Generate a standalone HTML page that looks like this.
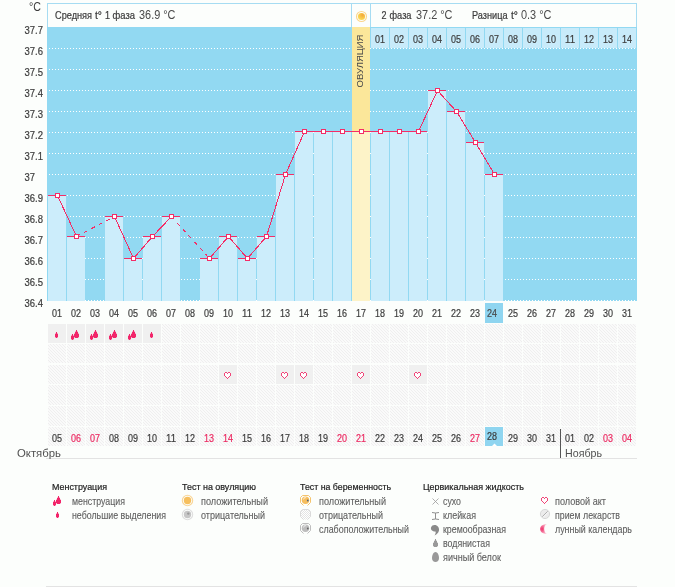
<!DOCTYPE html>
<html><head><meta charset="utf-8"><style>html,body{margin:0;padding:0;background:#fcfefc;width:675px;height:587px;overflow:hidden;position:relative}</style></head>
<body>
<svg width="675" height="587" viewBox="0 0 675 587" style="position:absolute;left:0;top:0;font-family:'Liberation Sans', sans-serif;will-change:transform">
<defs><pattern id="dots" x="1" y="0" width="3" height="1" patternUnits="userSpaceOnUse"><rect x="0" y="0" width="1" height="1" fill="#fff"/></pattern><pattern id="hatch" x="0" y="0" width="3" height="3" patternUnits="userSpaceOnUse"><rect width="3" height="3" fill="#fafafa"/><rect width="1" height="1" fill="#efefef"/><rect x="1" y="1" width="1" height="1" fill="#efefef"/><rect x="2" y="2" width="1" height="1" fill="#efefef"/></pattern><radialGradient id="sun" cx="0.65" cy="0.3" r="0.8"><stop offset="0" stop-color="#f3a73c"/><stop offset="0.6" stop-color="#f9cc4c"/><stop offset="1" stop-color="#fde15e"/></radialGradient><radialGradient id="moon" cx="0.3" cy="0.5" r="0.7"><stop offset="0" stop-color="#f0306a"/><stop offset="1" stop-color="#fbd0dc"/></radialGradient><pattern id="hatch2" x="0" y="0" width="2" height="2" patternUnits="userSpaceOnUse"><rect width="2" height="2" fill="#fff"/><rect width="1" height="1" fill="#e4e4e4"/><rect x="1" y="1" width="1" height="1" fill="#e4e4e4"/></pattern></defs>
<rect x="0" y="0" width="675" height="587" fill="#fcfefc"/>
<g shape-rendering="crispEdges">
<rect x="47" y="3" width="590" height="24" fill="#fcfefc"/>
<rect x="47" y="3" width="590" height="1" fill="#a6dcf2"/>
<rect x="47" y="3" width="1" height="24" fill="#a6dcf2"/>
<rect x="636" y="3" width="1" height="24" fill="#a6dcf2"/>
<rect x="351" y="3" width="1" height="24" fill="#a6dcf2"/>
<rect x="370" y="3" width="1" height="24" fill="#a6dcf2"/>
<rect x="47" y="27" width="590" height="274" fill="#92d9f2"/>
<rect x="47" y="48" width="590" height="1" fill="url(#dots)"/>
<rect x="47" y="69" width="590" height="1" fill="url(#dots)"/>
<rect x="47" y="90" width="590" height="1" fill="url(#dots)"/>
<rect x="47" y="111" width="590" height="1" fill="url(#dots)"/>
<rect x="47" y="132" width="590" height="1" fill="url(#dots)"/>
<rect x="47" y="153" width="590" height="1" fill="url(#dots)"/>
<rect x="47" y="174" width="590" height="1" fill="url(#dots)"/>
<rect x="47" y="195" width="590" height="1" fill="url(#dots)"/>
<rect x="47" y="216" width="590" height="1" fill="url(#dots)"/>
<rect x="47" y="237" width="590" height="1" fill="url(#dots)"/>
<rect x="47" y="258" width="590" height="1" fill="url(#dots)"/>
<rect x="47" y="279" width="590" height="1" fill="url(#dots)"/>
<rect x="47" y="300" width="590" height="1" fill="url(#dots)"/>
<rect x="371" y="28" width="18" height="20" fill="#c8ebfa"/>
<rect x="390" y="28" width="18" height="20" fill="#c8ebfa"/>
<rect x="409" y="28" width="18" height="20" fill="#c8ebfa"/>
<rect x="428" y="28" width="18" height="20" fill="#c8ebfa"/>
<rect x="447" y="28" width="18" height="20" fill="#c8ebfa"/>
<rect x="466" y="28" width="18" height="20" fill="#c8ebfa"/>
<rect x="485" y="28" width="18" height="20" fill="#c8ebfa"/>
<rect x="504" y="28" width="18" height="20" fill="#c8ebfa"/>
<rect x="523" y="28" width="18" height="20" fill="#c8ebfa"/>
<rect x="542" y="28" width="18" height="20" fill="#c8ebfa"/>
<rect x="561" y="28" width="18" height="20" fill="#c8ebfa"/>
<rect x="580" y="28" width="18" height="20" fill="#c8ebfa"/>
<rect x="599" y="28" width="18" height="20" fill="#c8ebfa"/>
<rect x="618" y="28" width="18" height="20" fill="#c8ebfa"/>
<rect x="352" y="27" width="18" height="104" fill="#fbe79a"/>
<rect x="48" y="196" width="18" height="105" fill="#ccedfb"/>
<rect x="48" y="195" width="18" height="1" fill="#f42d67"/>
<rect x="67" y="237" width="18" height="64" fill="#ccedfb"/>
<rect x="67" y="236" width="18" height="1" fill="#f42d67"/>
<rect x="105" y="217" width="18" height="84" fill="#ccedfb"/>
<rect x="105" y="216" width="18" height="1" fill="#f42d67"/>
<rect x="124" y="259" width="18" height="42" fill="#ccedfb"/>
<rect x="124" y="258" width="18" height="1" fill="#f42d67"/>
<rect x="143" y="237" width="18" height="64" fill="#ccedfb"/>
<rect x="143" y="236" width="18" height="1" fill="#f42d67"/>
<rect x="162" y="217" width="18" height="84" fill="#ccedfb"/>
<rect x="162" y="216" width="18" height="1" fill="#f42d67"/>
<rect x="200" y="259" width="18" height="42" fill="#ccedfb"/>
<rect x="200" y="258" width="18" height="1" fill="#f42d67"/>
<rect x="219" y="237" width="18" height="64" fill="#ccedfb"/>
<rect x="219" y="236" width="18" height="1" fill="#f42d67"/>
<rect x="238" y="259" width="18" height="42" fill="#ccedfb"/>
<rect x="238" y="258" width="18" height="1" fill="#f42d67"/>
<rect x="257" y="237" width="18" height="64" fill="#ccedfb"/>
<rect x="257" y="236" width="18" height="1" fill="#f42d67"/>
<rect x="276" y="175" width="18" height="126" fill="#ccedfb"/>
<rect x="276" y="174" width="18" height="1" fill="#f42d67"/>
<rect x="295" y="132" width="18" height="169" fill="#ccedfb"/>
<rect x="295" y="131" width="18" height="1" fill="#f42d67"/>
<rect x="314" y="132" width="18" height="169" fill="#ccedfb"/>
<rect x="314" y="131" width="18" height="1" fill="#f42d67"/>
<rect x="333" y="132" width="18" height="169" fill="#ccedfb"/>
<rect x="333" y="131" width="18" height="1" fill="#f42d67"/>
<rect x="352" y="132" width="18" height="169" fill="#fdf3c8"/>
<rect x="352" y="131" width="18" height="1" fill="#f42d67"/>
<rect x="371" y="132" width="18" height="169" fill="#ccedfb"/>
<rect x="371" y="131" width="18" height="1" fill="#f42d67"/>
<rect x="390" y="132" width="18" height="169" fill="#ccedfb"/>
<rect x="390" y="131" width="18" height="1" fill="#f42d67"/>
<rect x="409" y="132" width="18" height="169" fill="#ccedfb"/>
<rect x="409" y="131" width="18" height="1" fill="#f42d67"/>
<rect x="428" y="91" width="18" height="210" fill="#ccedfb"/>
<rect x="428" y="90" width="18" height="1" fill="#f42d67"/>
<rect x="447" y="112" width="18" height="189" fill="#ccedfb"/>
<rect x="447" y="111" width="18" height="1" fill="#f42d67"/>
<rect x="466" y="143" width="18" height="158" fill="#ccedfb"/>
<rect x="466" y="142" width="18" height="1" fill="#f42d67"/>
<rect x="485" y="175" width="18" height="126" fill="#ccedfb"/>
<rect x="485" y="174" width="18" height="1" fill="#f42d67"/>
<rect x="485" y="303" width="18" height="20" fill="#8fd5f0"/>
<rect x="48" y="324" width="18" height="19" fill="#f0f0f0"/>
<rect x="67" y="324" width="18" height="19" fill="#f0f0f0"/>
<rect x="86" y="324" width="18" height="19" fill="#f0f0f0"/>
<rect x="105" y="324" width="18" height="19" fill="#f0f0f0"/>
<rect x="124" y="324" width="18" height="19" fill="#f0f0f0"/>
<rect x="143" y="324" width="18" height="19" fill="#f0f0f0"/>
<rect x="162" y="324" width="18" height="19" fill="url(#hatch)"/>
<rect x="181" y="324" width="18" height="19" fill="url(#hatch)"/>
<rect x="200" y="324" width="18" height="19" fill="url(#hatch)"/>
<rect x="219" y="324" width="18" height="19" fill="url(#hatch)"/>
<rect x="238" y="324" width="18" height="19" fill="url(#hatch)"/>
<rect x="257" y="324" width="18" height="19" fill="url(#hatch)"/>
<rect x="276" y="324" width="18" height="19" fill="url(#hatch)"/>
<rect x="295" y="324" width="18" height="19" fill="url(#hatch)"/>
<rect x="314" y="324" width="18" height="19" fill="url(#hatch)"/>
<rect x="333" y="324" width="18" height="19" fill="url(#hatch)"/>
<rect x="352" y="324" width="18" height="19" fill="url(#hatch)"/>
<rect x="371" y="324" width="18" height="19" fill="url(#hatch)"/>
<rect x="390" y="324" width="18" height="19" fill="url(#hatch)"/>
<rect x="409" y="324" width="18" height="19" fill="url(#hatch)"/>
<rect x="428" y="324" width="18" height="19" fill="url(#hatch)"/>
<rect x="447" y="324" width="18" height="19" fill="url(#hatch)"/>
<rect x="466" y="324" width="18" height="19" fill="url(#hatch)"/>
<rect x="485" y="324" width="18" height="19" fill="url(#hatch)"/>
<rect x="504" y="324" width="18" height="19" fill="url(#hatch)"/>
<rect x="523" y="324" width="18" height="19" fill="url(#hatch)"/>
<rect x="542" y="324" width="18" height="19" fill="url(#hatch)"/>
<rect x="561" y="324" width="18" height="19" fill="url(#hatch)"/>
<rect x="580" y="324" width="18" height="19" fill="url(#hatch)"/>
<rect x="599" y="324" width="18" height="19" fill="url(#hatch)"/>
<rect x="618" y="324" width="18" height="19" fill="url(#hatch)"/>
<rect x="48" y="344" width="18" height="19" fill="url(#hatch)"/>
<rect x="67" y="344" width="18" height="19" fill="url(#hatch)"/>
<rect x="86" y="344" width="18" height="19" fill="url(#hatch)"/>
<rect x="105" y="344" width="18" height="19" fill="url(#hatch)"/>
<rect x="124" y="344" width="18" height="19" fill="url(#hatch)"/>
<rect x="143" y="344" width="18" height="19" fill="url(#hatch)"/>
<rect x="162" y="344" width="18" height="19" fill="url(#hatch)"/>
<rect x="181" y="344" width="18" height="19" fill="url(#hatch)"/>
<rect x="200" y="344" width="18" height="19" fill="url(#hatch)"/>
<rect x="219" y="344" width="18" height="19" fill="url(#hatch)"/>
<rect x="238" y="344" width="18" height="19" fill="url(#hatch)"/>
<rect x="257" y="344" width="18" height="19" fill="url(#hatch)"/>
<rect x="276" y="344" width="18" height="19" fill="url(#hatch)"/>
<rect x="295" y="344" width="18" height="19" fill="url(#hatch)"/>
<rect x="314" y="344" width="18" height="19" fill="url(#hatch)"/>
<rect x="333" y="344" width="18" height="19" fill="url(#hatch)"/>
<rect x="352" y="344" width="18" height="19" fill="url(#hatch)"/>
<rect x="371" y="344" width="18" height="19" fill="url(#hatch)"/>
<rect x="390" y="344" width="18" height="19" fill="url(#hatch)"/>
<rect x="409" y="344" width="18" height="19" fill="url(#hatch)"/>
<rect x="428" y="344" width="18" height="19" fill="url(#hatch)"/>
<rect x="447" y="344" width="18" height="19" fill="url(#hatch)"/>
<rect x="466" y="344" width="18" height="19" fill="url(#hatch)"/>
<rect x="485" y="344" width="18" height="19" fill="url(#hatch)"/>
<rect x="504" y="344" width="18" height="19" fill="url(#hatch)"/>
<rect x="523" y="344" width="18" height="19" fill="url(#hatch)"/>
<rect x="542" y="344" width="18" height="19" fill="url(#hatch)"/>
<rect x="561" y="344" width="18" height="19" fill="url(#hatch)"/>
<rect x="580" y="344" width="18" height="19" fill="url(#hatch)"/>
<rect x="599" y="344" width="18" height="19" fill="url(#hatch)"/>
<rect x="618" y="344" width="18" height="19" fill="url(#hatch)"/>
<rect x="48" y="365" width="18" height="19" fill="url(#hatch)"/>
<rect x="67" y="365" width="18" height="19" fill="url(#hatch)"/>
<rect x="86" y="365" width="18" height="19" fill="url(#hatch)"/>
<rect x="105" y="365" width="18" height="19" fill="url(#hatch)"/>
<rect x="124" y="365" width="18" height="19" fill="url(#hatch)"/>
<rect x="143" y="365" width="18" height="19" fill="url(#hatch)"/>
<rect x="162" y="365" width="18" height="19" fill="url(#hatch)"/>
<rect x="181" y="365" width="18" height="19" fill="url(#hatch)"/>
<rect x="200" y="365" width="18" height="19" fill="url(#hatch)"/>
<rect x="219" y="365" width="18" height="19" fill="#f0f0f0"/>
<rect x="238" y="365" width="18" height="19" fill="url(#hatch)"/>
<rect x="257" y="365" width="18" height="19" fill="url(#hatch)"/>
<rect x="276" y="365" width="18" height="19" fill="#f0f0f0"/>
<rect x="295" y="365" width="18" height="19" fill="#f0f0f0"/>
<rect x="314" y="365" width="18" height="19" fill="url(#hatch)"/>
<rect x="333" y="365" width="18" height="19" fill="url(#hatch)"/>
<rect x="352" y="365" width="18" height="19" fill="#f0f0f0"/>
<rect x="371" y="365" width="18" height="19" fill="url(#hatch)"/>
<rect x="390" y="365" width="18" height="19" fill="url(#hatch)"/>
<rect x="409" y="365" width="18" height="19" fill="#f0f0f0"/>
<rect x="428" y="365" width="18" height="19" fill="url(#hatch)"/>
<rect x="447" y="365" width="18" height="19" fill="url(#hatch)"/>
<rect x="466" y="365" width="18" height="19" fill="url(#hatch)"/>
<rect x="485" y="365" width="18" height="19" fill="url(#hatch)"/>
<rect x="504" y="365" width="18" height="19" fill="url(#hatch)"/>
<rect x="523" y="365" width="18" height="19" fill="url(#hatch)"/>
<rect x="542" y="365" width="18" height="19" fill="url(#hatch)"/>
<rect x="561" y="365" width="18" height="19" fill="url(#hatch)"/>
<rect x="580" y="365" width="18" height="19" fill="url(#hatch)"/>
<rect x="599" y="365" width="18" height="19" fill="url(#hatch)"/>
<rect x="618" y="365" width="18" height="19" fill="url(#hatch)"/>
<rect x="48" y="385" width="18" height="20" fill="url(#hatch)"/>
<rect x="67" y="385" width="18" height="20" fill="url(#hatch)"/>
<rect x="86" y="385" width="18" height="20" fill="url(#hatch)"/>
<rect x="105" y="385" width="18" height="20" fill="url(#hatch)"/>
<rect x="124" y="385" width="18" height="20" fill="url(#hatch)"/>
<rect x="143" y="385" width="18" height="20" fill="url(#hatch)"/>
<rect x="162" y="385" width="18" height="20" fill="url(#hatch)"/>
<rect x="181" y="385" width="18" height="20" fill="url(#hatch)"/>
<rect x="200" y="385" width="18" height="20" fill="url(#hatch)"/>
<rect x="219" y="385" width="18" height="20" fill="url(#hatch)"/>
<rect x="238" y="385" width="18" height="20" fill="url(#hatch)"/>
<rect x="257" y="385" width="18" height="20" fill="url(#hatch)"/>
<rect x="276" y="385" width="18" height="20" fill="url(#hatch)"/>
<rect x="295" y="385" width="18" height="20" fill="url(#hatch)"/>
<rect x="314" y="385" width="18" height="20" fill="url(#hatch)"/>
<rect x="333" y="385" width="18" height="20" fill="url(#hatch)"/>
<rect x="352" y="385" width="18" height="20" fill="url(#hatch)"/>
<rect x="371" y="385" width="18" height="20" fill="url(#hatch)"/>
<rect x="390" y="385" width="18" height="20" fill="url(#hatch)"/>
<rect x="409" y="385" width="18" height="20" fill="url(#hatch)"/>
<rect x="428" y="385" width="18" height="20" fill="url(#hatch)"/>
<rect x="447" y="385" width="18" height="20" fill="url(#hatch)"/>
<rect x="466" y="385" width="18" height="20" fill="url(#hatch)"/>
<rect x="485" y="385" width="18" height="20" fill="url(#hatch)"/>
<rect x="504" y="385" width="18" height="20" fill="url(#hatch)"/>
<rect x="523" y="385" width="18" height="20" fill="url(#hatch)"/>
<rect x="542" y="385" width="18" height="20" fill="url(#hatch)"/>
<rect x="561" y="385" width="18" height="20" fill="url(#hatch)"/>
<rect x="580" y="385" width="18" height="20" fill="url(#hatch)"/>
<rect x="599" y="385" width="18" height="20" fill="url(#hatch)"/>
<rect x="618" y="385" width="18" height="20" fill="url(#hatch)"/>
<rect x="48" y="406" width="18" height="20" fill="url(#hatch)"/>
<rect x="67" y="406" width="18" height="20" fill="url(#hatch)"/>
<rect x="86" y="406" width="18" height="20" fill="url(#hatch)"/>
<rect x="105" y="406" width="18" height="20" fill="url(#hatch)"/>
<rect x="124" y="406" width="18" height="20" fill="url(#hatch)"/>
<rect x="143" y="406" width="18" height="20" fill="url(#hatch)"/>
<rect x="162" y="406" width="18" height="20" fill="url(#hatch)"/>
<rect x="181" y="406" width="18" height="20" fill="url(#hatch)"/>
<rect x="200" y="406" width="18" height="20" fill="url(#hatch)"/>
<rect x="219" y="406" width="18" height="20" fill="url(#hatch)"/>
<rect x="238" y="406" width="18" height="20" fill="url(#hatch)"/>
<rect x="257" y="406" width="18" height="20" fill="url(#hatch)"/>
<rect x="276" y="406" width="18" height="20" fill="url(#hatch)"/>
<rect x="295" y="406" width="18" height="20" fill="url(#hatch)"/>
<rect x="314" y="406" width="18" height="20" fill="url(#hatch)"/>
<rect x="333" y="406" width="18" height="20" fill="url(#hatch)"/>
<rect x="352" y="406" width="18" height="20" fill="url(#hatch)"/>
<rect x="371" y="406" width="18" height="20" fill="url(#hatch)"/>
<rect x="390" y="406" width="18" height="20" fill="url(#hatch)"/>
<rect x="409" y="406" width="18" height="20" fill="url(#hatch)"/>
<rect x="428" y="406" width="18" height="20" fill="url(#hatch)"/>
<rect x="447" y="406" width="18" height="20" fill="url(#hatch)"/>
<rect x="466" y="406" width="18" height="20" fill="url(#hatch)"/>
<rect x="485" y="406" width="18" height="20" fill="url(#hatch)"/>
<rect x="504" y="406" width="18" height="20" fill="url(#hatch)"/>
<rect x="523" y="406" width="18" height="20" fill="url(#hatch)"/>
<rect x="542" y="406" width="18" height="20" fill="url(#hatch)"/>
<rect x="561" y="406" width="18" height="20" fill="url(#hatch)"/>
<rect x="580" y="406" width="18" height="20" fill="url(#hatch)"/>
<rect x="599" y="406" width="18" height="20" fill="url(#hatch)"/>
<rect x="618" y="406" width="18" height="20" fill="url(#hatch)"/>
<rect x="48" y="427" width="18" height="19" fill="url(#hatch)"/>
<rect x="67" y="427" width="18" height="19" fill="url(#hatch)"/>
<rect x="86" y="427" width="18" height="19" fill="url(#hatch)"/>
<rect x="105" y="427" width="18" height="19" fill="url(#hatch)"/>
<rect x="124" y="427" width="18" height="19" fill="url(#hatch)"/>
<rect x="143" y="427" width="18" height="19" fill="url(#hatch)"/>
<rect x="162" y="427" width="18" height="19" fill="url(#hatch)"/>
<rect x="181" y="427" width="18" height="19" fill="url(#hatch)"/>
<rect x="200" y="427" width="18" height="19" fill="url(#hatch)"/>
<rect x="219" y="427" width="18" height="19" fill="url(#hatch)"/>
<rect x="238" y="427" width="18" height="19" fill="url(#hatch)"/>
<rect x="257" y="427" width="18" height="19" fill="url(#hatch)"/>
<rect x="276" y="427" width="18" height="19" fill="url(#hatch)"/>
<rect x="295" y="427" width="18" height="19" fill="url(#hatch)"/>
<rect x="314" y="427" width="18" height="19" fill="url(#hatch)"/>
<rect x="333" y="427" width="18" height="19" fill="url(#hatch)"/>
<rect x="352" y="427" width="18" height="19" fill="url(#hatch)"/>
<rect x="371" y="427" width="18" height="19" fill="url(#hatch)"/>
<rect x="390" y="427" width="18" height="19" fill="url(#hatch)"/>
<rect x="409" y="427" width="18" height="19" fill="url(#hatch)"/>
<rect x="428" y="427" width="18" height="19" fill="url(#hatch)"/>
<rect x="447" y="427" width="18" height="19" fill="url(#hatch)"/>
<rect x="466" y="427" width="18" height="19" fill="url(#hatch)"/>
<rect x="485" y="427" width="18" height="19" fill="url(#hatch)"/>
<rect x="504" y="427" width="18" height="19" fill="url(#hatch)"/>
<rect x="523" y="427" width="18" height="19" fill="url(#hatch)"/>
<rect x="542" y="427" width="18" height="19" fill="url(#hatch)"/>
<rect x="561" y="427" width="18" height="19" fill="url(#hatch)"/>
<rect x="580" y="427" width="18" height="19" fill="url(#hatch)"/>
<rect x="599" y="427" width="18" height="19" fill="url(#hatch)"/>
<rect x="618" y="427" width="18" height="19" fill="url(#hatch)"/>
<rect x="485" y="427" width="18" height="19" fill="#8fd5f0"/>
<rect x="46" y="458" width="591" height="1" fill="#e3e3e3"/>
<rect x="560" y="429" width="1" height="29" fill="#555555"/>
<rect x="46" y="586" width="591" height="1" fill="#e3e3e3"/>
</g>
<line x1="57.5" y1="195.5" x2="76.5" y2="236.5" stroke="#f42d67" stroke-width="1" shape-rendering="crispEdges"/>
<line x1="76.5" y1="236.5" x2="114.5" y2="216.5" stroke="#f42d67" stroke-width="1" stroke-dasharray="4,4.5" shape-rendering="crispEdges"/>
<line x1="114.5" y1="216.5" x2="133.5" y2="258.5" stroke="#f42d67" stroke-width="1" shape-rendering="crispEdges"/>
<line x1="133.5" y1="258.5" x2="152.5" y2="236.5" stroke="#f42d67" stroke-width="1" shape-rendering="crispEdges"/>
<line x1="152.5" y1="236.5" x2="171.5" y2="216.5" stroke="#f42d67" stroke-width="1" shape-rendering="crispEdges"/>
<line x1="171.5" y1="216.5" x2="209.5" y2="258.5" stroke="#f42d67" stroke-width="1" stroke-dasharray="4,4.5" shape-rendering="crispEdges"/>
<line x1="209.5" y1="258.5" x2="228.5" y2="236.5" stroke="#f42d67" stroke-width="1" shape-rendering="crispEdges"/>
<line x1="228.5" y1="236.5" x2="247.5" y2="258.5" stroke="#f42d67" stroke-width="1" shape-rendering="crispEdges"/>
<line x1="247.5" y1="258.5" x2="266.5" y2="236.5" stroke="#f42d67" stroke-width="1" shape-rendering="crispEdges"/>
<line x1="266.5" y1="236.5" x2="285.5" y2="174.5" stroke="#f42d67" stroke-width="1" shape-rendering="crispEdges"/>
<line x1="285.5" y1="174.5" x2="304.5" y2="131.5" stroke="#f42d67" stroke-width="1" shape-rendering="crispEdges"/>
<line x1="304.5" y1="131.5" x2="323.5" y2="131.5" stroke="#f42d67" stroke-width="1" shape-rendering="crispEdges"/>
<line x1="323.5" y1="131.5" x2="342.5" y2="131.5" stroke="#f42d67" stroke-width="1" shape-rendering="crispEdges"/>
<line x1="342.5" y1="131.5" x2="361.5" y2="131.5" stroke="#f42d67" stroke-width="1" shape-rendering="crispEdges"/>
<line x1="361.5" y1="131.5" x2="380.5" y2="131.5" stroke="#f42d67" stroke-width="1" shape-rendering="crispEdges"/>
<line x1="380.5" y1="131.5" x2="399.5" y2="131.5" stroke="#f42d67" stroke-width="1" shape-rendering="crispEdges"/>
<line x1="399.5" y1="131.5" x2="418.5" y2="131.5" stroke="#f42d67" stroke-width="1" shape-rendering="crispEdges"/>
<line x1="418.5" y1="131.5" x2="437.5" y2="90.5" stroke="#f42d67" stroke-width="1" shape-rendering="crispEdges"/>
<line x1="437.5" y1="90.5" x2="456.5" y2="111.5" stroke="#f42d67" stroke-width="1" shape-rendering="crispEdges"/>
<line x1="456.5" y1="111.5" x2="475.5" y2="142.5" stroke="#f42d67" stroke-width="1" shape-rendering="crispEdges"/>
<line x1="475.5" y1="142.5" x2="494.5" y2="174.5" stroke="#f42d67" stroke-width="1" shape-rendering="crispEdges"/>
<g shape-rendering="crispEdges">
<rect x="55" y="193" width="5" height="5" fill="#f42d67"/>
<rect x="56" y="194" width="3" height="3" fill="#fff"/>
<rect x="74" y="234" width="5" height="5" fill="#f42d67"/>
<rect x="75" y="235" width="3" height="3" fill="#fff"/>
<rect x="112" y="214" width="5" height="5" fill="#f42d67"/>
<rect x="113" y="215" width="3" height="3" fill="#fff"/>
<rect x="131" y="256" width="5" height="5" fill="#f42d67"/>
<rect x="132" y="257" width="3" height="3" fill="#fff"/>
<rect x="150" y="234" width="5" height="5" fill="#f42d67"/>
<rect x="151" y="235" width="3" height="3" fill="#fff"/>
<rect x="169" y="214" width="5" height="5" fill="#f42d67"/>
<rect x="170" y="215" width="3" height="3" fill="#fff"/>
<rect x="207" y="256" width="5" height="5" fill="#f42d67"/>
<rect x="208" y="257" width="3" height="3" fill="#fff"/>
<rect x="226" y="234" width="5" height="5" fill="#f42d67"/>
<rect x="227" y="235" width="3" height="3" fill="#fff"/>
<rect x="245" y="256" width="5" height="5" fill="#f42d67"/>
<rect x="246" y="257" width="3" height="3" fill="#fff"/>
<rect x="264" y="234" width="5" height="5" fill="#f42d67"/>
<rect x="265" y="235" width="3" height="3" fill="#fff"/>
<rect x="283" y="172" width="5" height="5" fill="#f42d67"/>
<rect x="284" y="173" width="3" height="3" fill="#fff"/>
<rect x="302" y="129" width="5" height="5" fill="#f42d67"/>
<rect x="303" y="130" width="3" height="3" fill="#fff"/>
<rect x="321" y="129" width="5" height="5" fill="#f42d67"/>
<rect x="322" y="130" width="3" height="3" fill="#fff"/>
<rect x="340" y="129" width="5" height="5" fill="#f42d67"/>
<rect x="341" y="130" width="3" height="3" fill="#fff"/>
<rect x="359" y="129" width="5" height="5" fill="#f42d67"/>
<rect x="360" y="130" width="3" height="3" fill="#fff"/>
<rect x="378" y="129" width="5" height="5" fill="#f42d67"/>
<rect x="379" y="130" width="3" height="3" fill="#fff"/>
<rect x="397" y="129" width="5" height="5" fill="#f42d67"/>
<rect x="398" y="130" width="3" height="3" fill="#fff"/>
<rect x="416" y="129" width="5" height="5" fill="#f42d67"/>
<rect x="417" y="130" width="3" height="3" fill="#fff"/>
<rect x="435" y="88" width="5" height="5" fill="#f42d67"/>
<rect x="436" y="89" width="3" height="3" fill="#fff"/>
<rect x="454" y="109" width="5" height="5" fill="#f42d67"/>
<rect x="455" y="110" width="3" height="3" fill="#fff"/>
<rect x="473" y="140" width="5" height="5" fill="#f42d67"/>
<rect x="474" y="141" width="3" height="3" fill="#fff"/>
<rect x="492" y="172" width="5" height="5" fill="#f42d67"/>
<rect x="493" y="173" width="3" height="3" fill="#fff"/>
</g>
<path d="M492 446 L494.5 443.5 L497 446 Z" fill="#fff"/>
<text x="29" y="11" font-size="12.5" fill="#3c3c3c" text-anchor="start" font-weight="normal" textLength="12" lengthAdjust="spacingAndGlyphs" stroke="none">°C</text>
<text x="24.5" y="34" font-size="10.5" fill="#3c3c3c" text-anchor="start" font-weight="normal" textLength="18.5" lengthAdjust="spacingAndGlyphs" stroke="#3c3c3c" stroke-width="0.2">37.7</text>
<text x="24.5" y="55" font-size="10.5" fill="#3c3c3c" text-anchor="start" font-weight="normal" textLength="18.5" lengthAdjust="spacingAndGlyphs" stroke="#3c3c3c" stroke-width="0.2">37.6</text>
<text x="24.5" y="76" font-size="10.5" fill="#3c3c3c" text-anchor="start" font-weight="normal" textLength="18.5" lengthAdjust="spacingAndGlyphs" stroke="#3c3c3c" stroke-width="0.2">37.5</text>
<text x="24.5" y="97" font-size="10.5" fill="#3c3c3c" text-anchor="start" font-weight="normal" textLength="18.5" lengthAdjust="spacingAndGlyphs" stroke="#3c3c3c" stroke-width="0.2">37.4</text>
<text x="24.5" y="118" font-size="10.5" fill="#3c3c3c" text-anchor="start" font-weight="normal" textLength="18.5" lengthAdjust="spacingAndGlyphs" stroke="#3c3c3c" stroke-width="0.2">37.3</text>
<text x="24.5" y="139" font-size="10.5" fill="#3c3c3c" text-anchor="start" font-weight="normal" textLength="18.5" lengthAdjust="spacingAndGlyphs" stroke="#3c3c3c" stroke-width="0.2">37.2</text>
<text x="24.5" y="160" font-size="10.5" fill="#3c3c3c" text-anchor="start" font-weight="normal" textLength="18.5" lengthAdjust="spacingAndGlyphs" stroke="#3c3c3c" stroke-width="0.2">37.1</text>
<text x="24.5" y="181" font-size="10.5" fill="#3c3c3c" text-anchor="start" font-weight="normal" textLength="10.5" lengthAdjust="spacingAndGlyphs" stroke="#3c3c3c" stroke-width="0.2">37</text>
<text x="24.5" y="202" font-size="10.5" fill="#3c3c3c" text-anchor="start" font-weight="normal" textLength="18.5" lengthAdjust="spacingAndGlyphs" stroke="#3c3c3c" stroke-width="0.2">36.9</text>
<text x="24.5" y="223" font-size="10.5" fill="#3c3c3c" text-anchor="start" font-weight="normal" textLength="18.5" lengthAdjust="spacingAndGlyphs" stroke="#3c3c3c" stroke-width="0.2">36.8</text>
<text x="24.5" y="244" font-size="10.5" fill="#3c3c3c" text-anchor="start" font-weight="normal" textLength="18.5" lengthAdjust="spacingAndGlyphs" stroke="#3c3c3c" stroke-width="0.2">36.7</text>
<text x="24.5" y="265" font-size="10.5" fill="#3c3c3c" text-anchor="start" font-weight="normal" textLength="18.5" lengthAdjust="spacingAndGlyphs" stroke="#3c3c3c" stroke-width="0.2">36.6</text>
<text x="24.5" y="286" font-size="10.5" fill="#3c3c3c" text-anchor="start" font-weight="normal" textLength="18.5" lengthAdjust="spacingAndGlyphs" stroke="#3c3c3c" stroke-width="0.2">36.5</text>
<text x="24.5" y="307" font-size="10.5" fill="#3c3c3c" text-anchor="start" font-weight="normal" textLength="18.5" lengthAdjust="spacingAndGlyphs" stroke="#3c3c3c" stroke-width="0.2">36.4</text>
<text x="55" y="19" font-size="10" fill="#3c3c3c" text-anchor="start" font-weight="normal" textLength="37" lengthAdjust="spacingAndGlyphs" stroke="#3c3c3c" stroke-width="0.2">Средняя</text>
<text x="95" y="19" font-size="10" fill="#3c3c3c" text-anchor="start" font-weight="normal" textLength="7" lengthAdjust="spacingAndGlyphs" stroke="#3c3c3c" stroke-width="0.2">t°</text>
<text x="105" y="19" font-size="10" fill="#3c3c3c" text-anchor="start" font-weight="normal" textLength="5" lengthAdjust="spacingAndGlyphs" stroke="#3c3c3c" stroke-width="0.2">1</text>
<text x="112.5" y="19" font-size="10" fill="#3c3c3c" text-anchor="start" font-weight="normal" textLength="22.5" lengthAdjust="spacingAndGlyphs" stroke="#3c3c3c" stroke-width="0.2">фаза</text>
<text x="139" y="19" font-size="12" fill="#4a4a4a" text-anchor="start" font-weight="normal" textLength="36.5" lengthAdjust="spacingAndGlyphs" stroke="none">36.9 °C</text>
<text x="381.5" y="19" font-size="10" fill="#3c3c3c" text-anchor="start" font-weight="normal" textLength="5" lengthAdjust="spacingAndGlyphs" stroke="#3c3c3c" stroke-width="0.2">2</text>
<text x="389.5" y="19" font-size="10" fill="#3c3c3c" text-anchor="start" font-weight="normal" textLength="22" lengthAdjust="spacingAndGlyphs" stroke="#3c3c3c" stroke-width="0.2">фаза</text>
<text x="416" y="19" font-size="12" fill="#4a4a4a" text-anchor="start" font-weight="normal" textLength="36.5" lengthAdjust="spacingAndGlyphs" stroke="none">37.2 °C</text>
<text x="472" y="19" font-size="10" fill="#3c3c3c" text-anchor="start" font-weight="normal" textLength="35.5" lengthAdjust="spacingAndGlyphs" stroke="#3c3c3c" stroke-width="0.2">Разница</text>
<text x="511" y="19" font-size="10" fill="#3c3c3c" text-anchor="start" font-weight="normal" textLength="7" lengthAdjust="spacingAndGlyphs" stroke="#3c3c3c" stroke-width="0.2">t°</text>
<text x="521" y="19" font-size="12" fill="#4a4a4a" text-anchor="start" font-weight="normal" textLength="30.5" lengthAdjust="spacingAndGlyphs" stroke="none">0.3 °C</text>
<text x="380" y="43" font-size="10.5" fill="#3c3c3c" text-anchor="middle" font-weight="normal" textLength="10" lengthAdjust="spacingAndGlyphs" stroke="#3c3c3c" stroke-width="0.2">01</text>
<text x="399" y="43" font-size="10.5" fill="#3c3c3c" text-anchor="middle" font-weight="normal" textLength="10" lengthAdjust="spacingAndGlyphs" stroke="#3c3c3c" stroke-width="0.2">02</text>
<text x="418" y="43" font-size="10.5" fill="#3c3c3c" text-anchor="middle" font-weight="normal" textLength="10" lengthAdjust="spacingAndGlyphs" stroke="#3c3c3c" stroke-width="0.2">03</text>
<text x="437" y="43" font-size="10.5" fill="#3c3c3c" text-anchor="middle" font-weight="normal" textLength="10" lengthAdjust="spacingAndGlyphs" stroke="#3c3c3c" stroke-width="0.2">04</text>
<text x="456" y="43" font-size="10.5" fill="#3c3c3c" text-anchor="middle" font-weight="normal" textLength="10" lengthAdjust="spacingAndGlyphs" stroke="#3c3c3c" stroke-width="0.2">05</text>
<text x="475" y="43" font-size="10.5" fill="#3c3c3c" text-anchor="middle" font-weight="normal" textLength="10" lengthAdjust="spacingAndGlyphs" stroke="#3c3c3c" stroke-width="0.2">06</text>
<text x="494" y="43" font-size="10.5" fill="#3c3c3c" text-anchor="middle" font-weight="normal" textLength="10" lengthAdjust="spacingAndGlyphs" stroke="#3c3c3c" stroke-width="0.2">07</text>
<text x="513" y="43" font-size="10.5" fill="#3c3c3c" text-anchor="middle" font-weight="normal" textLength="10" lengthAdjust="spacingAndGlyphs" stroke="#3c3c3c" stroke-width="0.2">08</text>
<text x="532" y="43" font-size="10.5" fill="#3c3c3c" text-anchor="middle" font-weight="normal" textLength="10" lengthAdjust="spacingAndGlyphs" stroke="#3c3c3c" stroke-width="0.2">09</text>
<text x="551" y="43" font-size="10.5" fill="#3c3c3c" text-anchor="middle" font-weight="normal" textLength="10" lengthAdjust="spacingAndGlyphs" stroke="#3c3c3c" stroke-width="0.2">10</text>
<text x="570" y="43" font-size="10.5" fill="#3c3c3c" text-anchor="middle" font-weight="normal" textLength="10" lengthAdjust="spacingAndGlyphs" stroke="#3c3c3c" stroke-width="0.2">11</text>
<text x="589" y="43" font-size="10.5" fill="#3c3c3c" text-anchor="middle" font-weight="normal" textLength="10" lengthAdjust="spacingAndGlyphs" stroke="#3c3c3c" stroke-width="0.2">12</text>
<text x="608" y="43" font-size="10.5" fill="#3c3c3c" text-anchor="middle" font-weight="normal" textLength="10" lengthAdjust="spacingAndGlyphs" stroke="#3c3c3c" stroke-width="0.2">13</text>
<text x="627" y="43" font-size="10.5" fill="#3c3c3c" text-anchor="middle" font-weight="normal" textLength="10" lengthAdjust="spacingAndGlyphs" stroke="#3c3c3c" stroke-width="0.2">14</text>
<text transform="translate(363,87.5) rotate(-90)" font-size="9.8" fill="#4a4a4a" textLength="53" lengthAdjust="spacingAndGlyphs">ОВУЛЯЦИЯ</text>
<text x="57" y="317" font-size="10.5" fill="#3c3c3c" text-anchor="middle" font-weight="normal" textLength="10" lengthAdjust="spacingAndGlyphs" stroke="#3c3c3c" stroke-width="0.2">01</text>
<text x="76" y="317" font-size="10.5" fill="#3c3c3c" text-anchor="middle" font-weight="normal" textLength="10" lengthAdjust="spacingAndGlyphs" stroke="#3c3c3c" stroke-width="0.2">02</text>
<text x="95" y="317" font-size="10.5" fill="#3c3c3c" text-anchor="middle" font-weight="normal" textLength="10" lengthAdjust="spacingAndGlyphs" stroke="#3c3c3c" stroke-width="0.2">03</text>
<text x="114" y="317" font-size="10.5" fill="#3c3c3c" text-anchor="middle" font-weight="normal" textLength="10" lengthAdjust="spacingAndGlyphs" stroke="#3c3c3c" stroke-width="0.2">04</text>
<text x="133" y="317" font-size="10.5" fill="#3c3c3c" text-anchor="middle" font-weight="normal" textLength="10" lengthAdjust="spacingAndGlyphs" stroke="#3c3c3c" stroke-width="0.2">05</text>
<text x="152" y="317" font-size="10.5" fill="#3c3c3c" text-anchor="middle" font-weight="normal" textLength="10" lengthAdjust="spacingAndGlyphs" stroke="#3c3c3c" stroke-width="0.2">06</text>
<text x="171" y="317" font-size="10.5" fill="#3c3c3c" text-anchor="middle" font-weight="normal" textLength="10" lengthAdjust="spacingAndGlyphs" stroke="#3c3c3c" stroke-width="0.2">07</text>
<text x="190" y="317" font-size="10.5" fill="#3c3c3c" text-anchor="middle" font-weight="normal" textLength="10" lengthAdjust="spacingAndGlyphs" stroke="#3c3c3c" stroke-width="0.2">08</text>
<text x="209" y="317" font-size="10.5" fill="#3c3c3c" text-anchor="middle" font-weight="normal" textLength="10" lengthAdjust="spacingAndGlyphs" stroke="#3c3c3c" stroke-width="0.2">09</text>
<text x="228" y="317" font-size="10.5" fill="#3c3c3c" text-anchor="middle" font-weight="normal" textLength="10" lengthAdjust="spacingAndGlyphs" stroke="#3c3c3c" stroke-width="0.2">10</text>
<text x="247" y="317" font-size="10.5" fill="#3c3c3c" text-anchor="middle" font-weight="normal" textLength="10" lengthAdjust="spacingAndGlyphs" stroke="#3c3c3c" stroke-width="0.2">11</text>
<text x="266" y="317" font-size="10.5" fill="#3c3c3c" text-anchor="middle" font-weight="normal" textLength="10" lengthAdjust="spacingAndGlyphs" stroke="#3c3c3c" stroke-width="0.2">12</text>
<text x="285" y="317" font-size="10.5" fill="#3c3c3c" text-anchor="middle" font-weight="normal" textLength="10" lengthAdjust="spacingAndGlyphs" stroke="#3c3c3c" stroke-width="0.2">13</text>
<text x="304" y="317" font-size="10.5" fill="#3c3c3c" text-anchor="middle" font-weight="normal" textLength="10" lengthAdjust="spacingAndGlyphs" stroke="#3c3c3c" stroke-width="0.2">14</text>
<text x="323" y="317" font-size="10.5" fill="#3c3c3c" text-anchor="middle" font-weight="normal" textLength="10" lengthAdjust="spacingAndGlyphs" stroke="#3c3c3c" stroke-width="0.2">15</text>
<text x="342" y="317" font-size="10.5" fill="#3c3c3c" text-anchor="middle" font-weight="normal" textLength="10" lengthAdjust="spacingAndGlyphs" stroke="#3c3c3c" stroke-width="0.2">16</text>
<text x="361" y="317" font-size="10.5" fill="#3c3c3c" text-anchor="middle" font-weight="normal" textLength="10" lengthAdjust="spacingAndGlyphs" stroke="#3c3c3c" stroke-width="0.2">17</text>
<text x="380" y="317" font-size="10.5" fill="#3c3c3c" text-anchor="middle" font-weight="normal" textLength="10" lengthAdjust="spacingAndGlyphs" stroke="#3c3c3c" stroke-width="0.2">18</text>
<text x="399" y="317" font-size="10.5" fill="#3c3c3c" text-anchor="middle" font-weight="normal" textLength="10" lengthAdjust="spacingAndGlyphs" stroke="#3c3c3c" stroke-width="0.2">19</text>
<text x="418" y="317" font-size="10.5" fill="#3c3c3c" text-anchor="middle" font-weight="normal" textLength="10" lengthAdjust="spacingAndGlyphs" stroke="#3c3c3c" stroke-width="0.2">20</text>
<text x="437" y="317" font-size="10.5" fill="#3c3c3c" text-anchor="middle" font-weight="normal" textLength="10" lengthAdjust="spacingAndGlyphs" stroke="#3c3c3c" stroke-width="0.2">21</text>
<text x="456" y="317" font-size="10.5" fill="#3c3c3c" text-anchor="middle" font-weight="normal" textLength="10" lengthAdjust="spacingAndGlyphs" stroke="#3c3c3c" stroke-width="0.2">22</text>
<text x="475" y="317" font-size="10.5" fill="#3c3c3c" text-anchor="middle" font-weight="normal" textLength="10" lengthAdjust="spacingAndGlyphs" stroke="#3c3c3c" stroke-width="0.2">23</text>
<text x="492" y="317" font-size="10.5" fill="#4a4a4a" text-anchor="middle" font-weight="normal" textLength="10" lengthAdjust="spacingAndGlyphs" stroke="#4a4a4a" stroke-width="0.2">24</text>
<text x="513" y="317" font-size="10.5" fill="#3c3c3c" text-anchor="middle" font-weight="normal" textLength="10" lengthAdjust="spacingAndGlyphs" stroke="#3c3c3c" stroke-width="0.2">25</text>
<text x="532" y="317" font-size="10.5" fill="#3c3c3c" text-anchor="middle" font-weight="normal" textLength="10" lengthAdjust="spacingAndGlyphs" stroke="#3c3c3c" stroke-width="0.2">26</text>
<text x="551" y="317" font-size="10.5" fill="#3c3c3c" text-anchor="middle" font-weight="normal" textLength="10" lengthAdjust="spacingAndGlyphs" stroke="#3c3c3c" stroke-width="0.2">27</text>
<text x="570" y="317" font-size="10.5" fill="#3c3c3c" text-anchor="middle" font-weight="normal" textLength="10" lengthAdjust="spacingAndGlyphs" stroke="#3c3c3c" stroke-width="0.2">28</text>
<text x="589" y="317" font-size="10.5" fill="#3c3c3c" text-anchor="middle" font-weight="normal" textLength="10" lengthAdjust="spacingAndGlyphs" stroke="#3c3c3c" stroke-width="0.2">29</text>
<text x="608" y="317" font-size="10.5" fill="#3c3c3c" text-anchor="middle" font-weight="normal" textLength="10" lengthAdjust="spacingAndGlyphs" stroke="#3c3c3c" stroke-width="0.2">30</text>
<text x="627" y="317" font-size="10.5" fill="#3c3c3c" text-anchor="middle" font-weight="normal" textLength="10" lengthAdjust="spacingAndGlyphs" stroke="#3c3c3c" stroke-width="0.2">31</text>
<text x="57" y="442" font-size="10.5" fill="#3c3c3c" text-anchor="middle" font-weight="normal" textLength="10" lengthAdjust="spacingAndGlyphs" stroke="#3c3c3c" stroke-width="0.2">05</text>
<text x="76" y="442" font-size="10.5" fill="#ec2a62" text-anchor="middle" font-weight="normal" textLength="10" lengthAdjust="spacingAndGlyphs" stroke="#ec2a62" stroke-width="0.2">06</text>
<text x="95" y="442" font-size="10.5" fill="#ec2a62" text-anchor="middle" font-weight="normal" textLength="10" lengthAdjust="spacingAndGlyphs" stroke="#ec2a62" stroke-width="0.2">07</text>
<text x="114" y="442" font-size="10.5" fill="#3c3c3c" text-anchor="middle" font-weight="normal" textLength="10" lengthAdjust="spacingAndGlyphs" stroke="#3c3c3c" stroke-width="0.2">08</text>
<text x="133" y="442" font-size="10.5" fill="#3c3c3c" text-anchor="middle" font-weight="normal" textLength="10" lengthAdjust="spacingAndGlyphs" stroke="#3c3c3c" stroke-width="0.2">09</text>
<text x="152" y="442" font-size="10.5" fill="#3c3c3c" text-anchor="middle" font-weight="normal" textLength="10" lengthAdjust="spacingAndGlyphs" stroke="#3c3c3c" stroke-width="0.2">10</text>
<text x="171" y="442" font-size="10.5" fill="#3c3c3c" text-anchor="middle" font-weight="normal" textLength="10" lengthAdjust="spacingAndGlyphs" stroke="#3c3c3c" stroke-width="0.2">11</text>
<text x="190" y="442" font-size="10.5" fill="#3c3c3c" text-anchor="middle" font-weight="normal" textLength="10" lengthAdjust="spacingAndGlyphs" stroke="#3c3c3c" stroke-width="0.2">12</text>
<text x="209" y="442" font-size="10.5" fill="#ec2a62" text-anchor="middle" font-weight="normal" textLength="10" lengthAdjust="spacingAndGlyphs" stroke="#ec2a62" stroke-width="0.2">13</text>
<text x="228" y="442" font-size="10.5" fill="#ec2a62" text-anchor="middle" font-weight="normal" textLength="10" lengthAdjust="spacingAndGlyphs" stroke="#ec2a62" stroke-width="0.2">14</text>
<text x="247" y="442" font-size="10.5" fill="#3c3c3c" text-anchor="middle" font-weight="normal" textLength="10" lengthAdjust="spacingAndGlyphs" stroke="#3c3c3c" stroke-width="0.2">15</text>
<text x="266" y="442" font-size="10.5" fill="#3c3c3c" text-anchor="middle" font-weight="normal" textLength="10" lengthAdjust="spacingAndGlyphs" stroke="#3c3c3c" stroke-width="0.2">16</text>
<text x="285" y="442" font-size="10.5" fill="#3c3c3c" text-anchor="middle" font-weight="normal" textLength="10" lengthAdjust="spacingAndGlyphs" stroke="#3c3c3c" stroke-width="0.2">17</text>
<text x="304" y="442" font-size="10.5" fill="#3c3c3c" text-anchor="middle" font-weight="normal" textLength="10" lengthAdjust="spacingAndGlyphs" stroke="#3c3c3c" stroke-width="0.2">18</text>
<text x="323" y="442" font-size="10.5" fill="#3c3c3c" text-anchor="middle" font-weight="normal" textLength="10" lengthAdjust="spacingAndGlyphs" stroke="#3c3c3c" stroke-width="0.2">19</text>
<text x="342" y="442" font-size="10.5" fill="#ec2a62" text-anchor="middle" font-weight="normal" textLength="10" lengthAdjust="spacingAndGlyphs" stroke="#ec2a62" stroke-width="0.2">20</text>
<text x="361" y="442" font-size="10.5" fill="#ec2a62" text-anchor="middle" font-weight="normal" textLength="10" lengthAdjust="spacingAndGlyphs" stroke="#ec2a62" stroke-width="0.2">21</text>
<text x="380" y="442" font-size="10.5" fill="#3c3c3c" text-anchor="middle" font-weight="normal" textLength="10" lengthAdjust="spacingAndGlyphs" stroke="#3c3c3c" stroke-width="0.2">22</text>
<text x="399" y="442" font-size="10.5" fill="#3c3c3c" text-anchor="middle" font-weight="normal" textLength="10" lengthAdjust="spacingAndGlyphs" stroke="#3c3c3c" stroke-width="0.2">23</text>
<text x="418" y="442" font-size="10.5" fill="#3c3c3c" text-anchor="middle" font-weight="normal" textLength="10" lengthAdjust="spacingAndGlyphs" stroke="#3c3c3c" stroke-width="0.2">24</text>
<text x="437" y="442" font-size="10.5" fill="#3c3c3c" text-anchor="middle" font-weight="normal" textLength="10" lengthAdjust="spacingAndGlyphs" stroke="#3c3c3c" stroke-width="0.2">25</text>
<text x="456" y="442" font-size="10.5" fill="#3c3c3c" text-anchor="middle" font-weight="normal" textLength="10" lengthAdjust="spacingAndGlyphs" stroke="#3c3c3c" stroke-width="0.2">26</text>
<text x="475" y="442" font-size="10.5" fill="#ec2a62" text-anchor="middle" font-weight="normal" textLength="10" lengthAdjust="spacingAndGlyphs" stroke="#ec2a62" stroke-width="0.2">27</text>
<text x="492" y="440" font-size="10.5" fill="#3c3c3c" text-anchor="middle" font-weight="normal" textLength="10" lengthAdjust="spacingAndGlyphs" stroke="#3c3c3c" stroke-width="0.2">28</text>
<text x="513" y="442" font-size="10.5" fill="#3c3c3c" text-anchor="middle" font-weight="normal" textLength="10" lengthAdjust="spacingAndGlyphs" stroke="#3c3c3c" stroke-width="0.2">29</text>
<text x="532" y="442" font-size="10.5" fill="#3c3c3c" text-anchor="middle" font-weight="normal" textLength="10" lengthAdjust="spacingAndGlyphs" stroke="#3c3c3c" stroke-width="0.2">30</text>
<text x="551" y="442" font-size="10.5" fill="#3c3c3c" text-anchor="middle" font-weight="normal" textLength="10" lengthAdjust="spacingAndGlyphs" stroke="#3c3c3c" stroke-width="0.2">31</text>
<text x="570" y="442" font-size="10.5" fill="#3c3c3c" text-anchor="middle" font-weight="normal" textLength="10" lengthAdjust="spacingAndGlyphs" stroke="#3c3c3c" stroke-width="0.2">01</text>
<text x="589" y="442" font-size="10.5" fill="#3c3c3c" text-anchor="middle" font-weight="normal" textLength="10" lengthAdjust="spacingAndGlyphs" stroke="#3c3c3c" stroke-width="0.2">02</text>
<text x="608" y="442" font-size="10.5" fill="#ec2a62" text-anchor="middle" font-weight="normal" textLength="10" lengthAdjust="spacingAndGlyphs" stroke="#ec2a62" stroke-width="0.2">03</text>
<text x="627" y="442" font-size="10.5" fill="#ec2a62" text-anchor="middle" font-weight="normal" textLength="10" lengthAdjust="spacingAndGlyphs" stroke="#ec2a62" stroke-width="0.2">04</text>
<text x="17" y="457" font-size="11" fill="#505050" text-anchor="start" font-weight="normal" textLength="44" lengthAdjust="spacingAndGlyphs" stroke-width="0" stroke="#505050" stroke-width="0.2">Октябрь</text>
<text x="565" y="457" font-size="11" fill="#505050" text-anchor="start" font-weight="normal" textLength="37" lengthAdjust="spacingAndGlyphs" stroke-width="0" stroke="#505050" stroke-width="0.2">Ноябрь</text>
<g shape-rendering="crispEdges" fill="#f2256a"><rect x="56" y="332" width="1" height="2"/><rect x="55" y="334" width="3" height="3"/><rect x="56" y="337" width="1" height="1"/></g><g shape-rendering="crispEdges" fill="#f2256a" fill-opacity="0.35"><rect x="55" y="333" width="1" height="1"/><rect x="57" y="333" width="1" height="1"/><rect x="55" y="337" width="1" height="1"/><rect x="57" y="337" width="1" height="1"/></g>
<g shape-rendering="crispEdges" fill="#f2256a"><rect x="151" y="332" width="1" height="2"/><rect x="150" y="334" width="3" height="3"/><rect x="151" y="337" width="1" height="1"/></g><g shape-rendering="crispEdges" fill="#f2256a" fill-opacity="0.35"><rect x="150" y="333" width="1" height="1"/><rect x="152" y="333" width="1" height="1"/><rect x="150" y="337" width="1" height="1"/><rect x="152" y="337" width="1" height="1"/></g>
<g shape-rendering="crispEdges" fill="#f2256a"><rect x="72" y="334" width="1" height="2"/><rect x="71" y="336" width="3" height="3"/><rect x="72" y="339" width="1" height="1"/></g><g shape-rendering="crispEdges" fill="#f2256a" fill-opacity="0.35"><rect x="71" y="335" width="1" height="1"/><rect x="73" y="335" width="1" height="1"/><rect x="71" y="339" width="1" height="1"/><rect x="73" y="339" width="1" height="1"/></g>
<g shape-rendering="crispEdges" fill="#f2256a"><rect x="76" y="330" width="1" height="2"/><rect x="75" y="332" width="3" height="2"/><rect x="74" y="334" width="5" height="3"/><rect x="75" y="337" width="3" height="1"/></g><g shape-rendering="crispEdges" fill="#f2256a" fill-opacity="0.3"><rect x="75" y="331" width="1" height="1"/><rect x="77" y="331" width="1" height="1"/><rect x="74" y="333" width="1" height="1"/><rect x="78" y="333" width="1" height="1"/><rect x="74" y="337" width="1" height="1"/><rect x="78" y="337" width="1" height="1"/></g>
<g shape-rendering="crispEdges" fill="#f2256a"><rect x="91" y="334" width="1" height="2"/><rect x="90" y="336" width="3" height="3"/><rect x="91" y="339" width="1" height="1"/></g><g shape-rendering="crispEdges" fill="#f2256a" fill-opacity="0.35"><rect x="90" y="335" width="1" height="1"/><rect x="92" y="335" width="1" height="1"/><rect x="90" y="339" width="1" height="1"/><rect x="92" y="339" width="1" height="1"/></g>
<g shape-rendering="crispEdges" fill="#f2256a"><rect x="95" y="330" width="1" height="2"/><rect x="94" y="332" width="3" height="2"/><rect x="93" y="334" width="5" height="3"/><rect x="94" y="337" width="3" height="1"/></g><g shape-rendering="crispEdges" fill="#f2256a" fill-opacity="0.3"><rect x="94" y="331" width="1" height="1"/><rect x="96" y="331" width="1" height="1"/><rect x="93" y="333" width="1" height="1"/><rect x="97" y="333" width="1" height="1"/><rect x="93" y="337" width="1" height="1"/><rect x="97" y="337" width="1" height="1"/></g>
<g shape-rendering="crispEdges" fill="#f2256a"><rect x="110" y="334" width="1" height="2"/><rect x="109" y="336" width="3" height="3"/><rect x="110" y="339" width="1" height="1"/></g><g shape-rendering="crispEdges" fill="#f2256a" fill-opacity="0.35"><rect x="109" y="335" width="1" height="1"/><rect x="111" y="335" width="1" height="1"/><rect x="109" y="339" width="1" height="1"/><rect x="111" y="339" width="1" height="1"/></g>
<g shape-rendering="crispEdges" fill="#f2256a"><rect x="114" y="330" width="1" height="2"/><rect x="113" y="332" width="3" height="2"/><rect x="112" y="334" width="5" height="3"/><rect x="113" y="337" width="3" height="1"/></g><g shape-rendering="crispEdges" fill="#f2256a" fill-opacity="0.3"><rect x="113" y="331" width="1" height="1"/><rect x="115" y="331" width="1" height="1"/><rect x="112" y="333" width="1" height="1"/><rect x="116" y="333" width="1" height="1"/><rect x="112" y="337" width="1" height="1"/><rect x="116" y="337" width="1" height="1"/></g>
<g shape-rendering="crispEdges" fill="#f2256a"><rect x="129" y="334" width="1" height="2"/><rect x="128" y="336" width="3" height="3"/><rect x="129" y="339" width="1" height="1"/></g><g shape-rendering="crispEdges" fill="#f2256a" fill-opacity="0.35"><rect x="128" y="335" width="1" height="1"/><rect x="130" y="335" width="1" height="1"/><rect x="128" y="339" width="1" height="1"/><rect x="130" y="339" width="1" height="1"/></g>
<g shape-rendering="crispEdges" fill="#f2256a"><rect x="133" y="330" width="1" height="2"/><rect x="132" y="332" width="3" height="2"/><rect x="131" y="334" width="5" height="3"/><rect x="132" y="337" width="3" height="1"/></g><g shape-rendering="crispEdges" fill="#f2256a" fill-opacity="0.3"><rect x="132" y="331" width="1" height="1"/><rect x="134" y="331" width="1" height="1"/><rect x="131" y="333" width="1" height="1"/><rect x="135" y="333" width="1" height="1"/><rect x="131" y="337" width="1" height="1"/><rect x="135" y="337" width="1" height="1"/></g>
<g shape-rendering="crispEdges" fill="#fff"><rect x="225" y="373" width="2" height="1"/><rect x="228" y="373" width="2" height="1"/><rect x="225" y="374" width="5" height="2"/><rect x="226" y="376" width="3" height="1"/><rect x="227" y="377" width="1" height="1"/></g><g shape-rendering="crispEdges" fill="#f04679"><rect x="225" y="372" width="2" height="1"/><rect x="228" y="372" width="2" height="1"/><rect x="224" y="373" width="1" height="3"/><rect x="227" y="373" width="1" height="1"/><rect x="230" y="373" width="1" height="3"/><rect x="225" y="376" width="1" height="1"/><rect x="229" y="376" width="1" height="1"/><rect x="226" y="377" width="1" height="1"/><rect x="228" y="377" width="1" height="1"/><rect x="227" y="378" width="1" height="1"/></g>
<g shape-rendering="crispEdges" fill="#fff"><rect x="282" y="373" width="2" height="1"/><rect x="285" y="373" width="2" height="1"/><rect x="282" y="374" width="5" height="2"/><rect x="283" y="376" width="3" height="1"/><rect x="284" y="377" width="1" height="1"/></g><g shape-rendering="crispEdges" fill="#f04679"><rect x="282" y="372" width="2" height="1"/><rect x="285" y="372" width="2" height="1"/><rect x="281" y="373" width="1" height="3"/><rect x="284" y="373" width="1" height="1"/><rect x="287" y="373" width="1" height="3"/><rect x="282" y="376" width="1" height="1"/><rect x="286" y="376" width="1" height="1"/><rect x="283" y="377" width="1" height="1"/><rect x="285" y="377" width="1" height="1"/><rect x="284" y="378" width="1" height="1"/></g>
<g shape-rendering="crispEdges" fill="#fff"><rect x="301" y="373" width="2" height="1"/><rect x="304" y="373" width="2" height="1"/><rect x="301" y="374" width="5" height="2"/><rect x="302" y="376" width="3" height="1"/><rect x="303" y="377" width="1" height="1"/></g><g shape-rendering="crispEdges" fill="#f04679"><rect x="301" y="372" width="2" height="1"/><rect x="304" y="372" width="2" height="1"/><rect x="300" y="373" width="1" height="3"/><rect x="303" y="373" width="1" height="1"/><rect x="306" y="373" width="1" height="3"/><rect x="301" y="376" width="1" height="1"/><rect x="305" y="376" width="1" height="1"/><rect x="302" y="377" width="1" height="1"/><rect x="304" y="377" width="1" height="1"/><rect x="303" y="378" width="1" height="1"/></g>
<g shape-rendering="crispEdges" fill="#fff"><rect x="358" y="373" width="2" height="1"/><rect x="361" y="373" width="2" height="1"/><rect x="358" y="374" width="5" height="2"/><rect x="359" y="376" width="3" height="1"/><rect x="360" y="377" width="1" height="1"/></g><g shape-rendering="crispEdges" fill="#f04679"><rect x="358" y="372" width="2" height="1"/><rect x="361" y="372" width="2" height="1"/><rect x="357" y="373" width="1" height="3"/><rect x="360" y="373" width="1" height="1"/><rect x="363" y="373" width="1" height="3"/><rect x="358" y="376" width="1" height="1"/><rect x="362" y="376" width="1" height="1"/><rect x="359" y="377" width="1" height="1"/><rect x="361" y="377" width="1" height="1"/><rect x="360" y="378" width="1" height="1"/></g>
<g shape-rendering="crispEdges" fill="#fff"><rect x="415" y="373" width="2" height="1"/><rect x="418" y="373" width="2" height="1"/><rect x="415" y="374" width="5" height="2"/><rect x="416" y="376" width="3" height="1"/><rect x="417" y="377" width="1" height="1"/></g><g shape-rendering="crispEdges" fill="#f04679"><rect x="415" y="372" width="2" height="1"/><rect x="418" y="372" width="2" height="1"/><rect x="414" y="373" width="1" height="3"/><rect x="417" y="373" width="1" height="1"/><rect x="420" y="373" width="1" height="3"/><rect x="415" y="376" width="1" height="1"/><rect x="419" y="376" width="1" height="1"/><rect x="416" y="377" width="1" height="1"/><rect x="418" y="377" width="1" height="1"/><rect x="417" y="378" width="1" height="1"/></g>
<circle cx="361.5" cy="16.5" r="5" fill="none" stroke="#fbd68c" stroke-width="1.1"/>
<circle cx="361.5" cy="16.5" r="3.6" fill="url(#sun)"/>
<text x="52" y="490" font-size="9.6" fill="#222222" text-anchor="start" font-weight="normal" textLength="55" lengthAdjust="spacingAndGlyphs" stroke="#222" stroke-width="0.2">Менструация</text>
<text x="72" y="505" font-size="10.2" fill="#5e5e5e" text-anchor="start" font-weight="normal" textLength="53" lengthAdjust="spacingAndGlyphs" stroke="#5e5e5e" stroke-width="0.1">менструация</text>
<text x="72" y="519" font-size="10.2" fill="#5e5e5e" text-anchor="start" font-weight="normal" textLength="94" lengthAdjust="spacingAndGlyphs" stroke="#5e5e5e" stroke-width="0.1">небольшие выделения</text>
<g shape-rendering="crispEdges" fill="#f2256a"><rect x="54" y="500" width="1" height="2"/><rect x="53" y="502" width="3" height="3"/><rect x="54" y="505" width="1" height="1"/></g><g shape-rendering="crispEdges" fill="#f2256a" fill-opacity="0.35"><rect x="53" y="501" width="1" height="1"/><rect x="55" y="501" width="1" height="1"/><rect x="53" y="505" width="1" height="1"/><rect x="55" y="505" width="1" height="1"/></g>
<g shape-rendering="crispEdges" fill="#f2256a"><rect x="58" y="496" width="1" height="2"/><rect x="57" y="498" width="3" height="2"/><rect x="56" y="500" width="5" height="3"/><rect x="57" y="503" width="3" height="1"/></g><g shape-rendering="crispEdges" fill="#f2256a" fill-opacity="0.3"><rect x="57" y="497" width="1" height="1"/><rect x="59" y="497" width="1" height="1"/><rect x="56" y="499" width="1" height="1"/><rect x="60" y="499" width="1" height="1"/><rect x="56" y="503" width="1" height="1"/><rect x="60" y="503" width="1" height="1"/></g>
<g shape-rendering="crispEdges" fill="#f2256a"><rect x="57" y="512" width="1" height="2"/><rect x="56" y="514" width="3" height="3"/><rect x="57" y="517" width="1" height="1"/></g><g shape-rendering="crispEdges" fill="#f2256a" fill-opacity="0.35"><rect x="56" y="513" width="1" height="1"/><rect x="58" y="513" width="1" height="1"/><rect x="56" y="517" width="1" height="1"/><rect x="58" y="517" width="1" height="1"/></g>
<text x="182" y="490" font-size="9.6" fill="#222222" text-anchor="start" font-weight="normal" textLength="74" lengthAdjust="spacingAndGlyphs" stroke="#222" stroke-width="0.2">Тест на овуляцию</text>
<text x="201" y="505" font-size="10.2" fill="#5e5e5e" text-anchor="start" font-weight="normal" textLength="67" lengthAdjust="spacingAndGlyphs" stroke="#5e5e5e" stroke-width="0.1">положительный</text>
<text x="201" y="519" font-size="10.2" fill="#5e5e5e" text-anchor="start" font-weight="normal" textLength="64" lengthAdjust="spacingAndGlyphs" stroke="#5e5e5e" stroke-width="0.1">отрицательный</text>
<circle cx="187.5" cy="500.5" r="5.2" fill="none" stroke="#f9d597" stroke-width="1.1"/><circle cx="187.5" cy="500.5" r="3.7" fill="#f6bf5e"/>
<circle cx="187.5" cy="514.5" r="5.2" fill="none" stroke="#dedede" stroke-width="1.1"/><circle cx="187.5" cy="514.5" r="3.7" fill="#c6c6c6"/><circle cx="188.3" cy="513.6" r="1.2" fill="#999"/>
<text x="300" y="490" font-size="9.6" fill="#222222" text-anchor="start" font-weight="normal" textLength="91" lengthAdjust="spacingAndGlyphs" stroke="#222" stroke-width="0.2">Тест на беременность</text>
<text x="319" y="505" font-size="10.2" fill="#5e5e5e" text-anchor="start" font-weight="normal" textLength="67" lengthAdjust="spacingAndGlyphs" stroke="#5e5e5e" stroke-width="0.1">положительный</text>
<text x="319" y="519" font-size="10.2" fill="#5e5e5e" text-anchor="start" font-weight="normal" textLength="64" lengthAdjust="spacingAndGlyphs" stroke="#5e5e5e" stroke-width="0.1">отрицательный</text>
<text x="319" y="533" font-size="10.2" fill="#5e5e5e" text-anchor="start" font-weight="normal" textLength="90" lengthAdjust="spacingAndGlyphs" stroke="#5e5e5e" stroke-width="0.1">слабоположительный</text>
<path d="M303.5 505.5 L300.5 502.5 L300.5 497.5 L302.5 495.5 L308.5 495.5 L310.5 497.5 L310.5 502.5 L307.5 505.5" fill="none" stroke="#f5c46e" stroke-width="1"/><circle cx="305.5" cy="500.3" r="3.7" fill="#f6bd5c"/><path d="M303.6 499.5 a2 2 0 0 1 2.6 -1.8" stroke="#fff" stroke-width="0.9" fill="none" opacity="0.8"/><circle cx="307.8" cy="500.5" r="0.9" fill="#556677"/>
<path d="M303.5 519.5 L300.5 516.5 L300.5 511.5 L302.5 509.5 L308.5 509.5 L310.5 511.5 L310.5 516.5 L307.5 519.5 Z" fill="url(#hatch2)" stroke="none"/><path d="M303.5 519.5 L300.5 516.5 L300.5 511.5 L302.5 509.5 L308.5 509.5 L310.5 511.5 L310.5 516.5 L307.5 519.5" fill="none" stroke="#dadada" stroke-width="1"/>
<path d="M303.5 533.5 L300.5 530.5 L300.5 525.5 L302.5 523.5 L308.5 523.5 L310.5 525.5 L310.5 530.5 L307.5 533.5" fill="none" stroke="#bdbdbd" stroke-width="1"/><circle cx="305.5" cy="528.3" r="3.7" fill="#bcbcbc"/><path d="M303.6 527.5 a2 2 0 0 1 2.6 -1.8" stroke="#fff" stroke-width="0.9" fill="none" opacity="0.8"/><circle cx="307.8" cy="528.5" r="0.9" fill="#666"/>
<text x="423" y="490" font-size="9.6" fill="#222222" text-anchor="start" font-weight="normal" textLength="101" lengthAdjust="spacingAndGlyphs" stroke="#222" stroke-width="0.2">Цервикальная жидкость</text>
<text x="443" y="505" font-size="10.2" fill="#5e5e5e" text-anchor="start" font-weight="normal" textLength="18" lengthAdjust="spacingAndGlyphs" stroke="#5e5e5e" stroke-width="0.1">сухо</text>
<text x="443" y="519" font-size="10.2" fill="#5e5e5e" text-anchor="start" font-weight="normal" textLength="33" lengthAdjust="spacingAndGlyphs" stroke="#5e5e5e" stroke-width="0.1">клейкая</text>
<text x="443" y="533" font-size="10.2" fill="#5e5e5e" text-anchor="start" font-weight="normal" textLength="63" lengthAdjust="spacingAndGlyphs" stroke="#5e5e5e" stroke-width="0.1">кремообразная</text>
<text x="443" y="547" font-size="10.2" fill="#5e5e5e" text-anchor="start" font-weight="normal" textLength="47" lengthAdjust="spacingAndGlyphs" stroke="#5e5e5e" stroke-width="0.1">водянистая</text>
<text x="443" y="561" font-size="10.2" fill="#5e5e5e" text-anchor="start" font-weight="normal" textLength="58" lengthAdjust="spacingAndGlyphs" stroke="#5e5e5e" stroke-width="0.1">яичный белок</text>
<path d="M432.5 498.5 L438.5 504.5 M438.5 498.5 L432.5 504.5" stroke="#9a9a9a" stroke-width="0.8"/>
<path d="M432 512.5 Q435.5 513.5 439 512.5 M435.5 513 V519 M432 519.5 Q435.5 518.5 439 519.5" stroke="#8f8f8f" stroke-width="1" fill="none"/>
<path d="M434.5 525 C437.5 525 439.5 527.5 439 530.5 C438.5 533 436.5 534.5 434.5 535.5 C435.5 534 436 532.5 435.5 531.5 C432 531.5 430.5 529.5 431 527.5 C431.5 525.8 433 525 434.5 525 Z" fill="#8a8a8a"/>
<g shape-rendering="crispEdges" fill="#999"><rect x="435" y="539" width="1" height="2"/><rect x="434" y="541" width="3" height="2"/><rect x="433" y="543" width="5" height="3"/><rect x="434" y="546" width="3" height="1"/></g><g shape-rendering="crispEdges" fill="#999" fill-opacity="0.3"><rect x="434" y="540" width="1" height="1"/><rect x="436" y="540" width="1" height="1"/><rect x="433" y="542" width="1" height="1"/><rect x="437" y="542" width="1" height="1"/><rect x="433" y="546" width="1" height="1"/><rect x="437" y="546" width="1" height="1"/></g>
<path d="M435.5 552 C438 552 439 556 439 558 C439 560.5 437.5 562 435.5 562 C433.5 562 432 560.5 432 558 C432 556 433 552 435.5 552 Z" fill="#999"/>
<text x="555" y="505" font-size="10.2" fill="#5e5e5e" text-anchor="start" font-weight="normal" textLength="51" lengthAdjust="spacingAndGlyphs" stroke="#5e5e5e" stroke-width="0.1">половой акт</text>
<text x="555" y="519" font-size="10.2" fill="#5e5e5e" text-anchor="start" font-weight="normal" textLength="65" lengthAdjust="spacingAndGlyphs" stroke="#5e5e5e" stroke-width="0.1">прием лекарств</text>
<text x="555" y="533" font-size="10.2" fill="#5e5e5e" text-anchor="start" font-weight="normal" textLength="77" lengthAdjust="spacingAndGlyphs" stroke="#5e5e5e" stroke-width="0.1">лунный календарь</text>
<g shape-rendering="crispEdges" fill="#fff"><rect x="542" y="498" width="2" height="1"/><rect x="545" y="498" width="2" height="1"/><rect x="542" y="499" width="5" height="2"/><rect x="543" y="501" width="3" height="1"/><rect x="544" y="502" width="1" height="1"/></g><g shape-rendering="crispEdges" fill="#f04679"><rect x="542" y="497" width="2" height="1"/><rect x="545" y="497" width="2" height="1"/><rect x="541" y="498" width="1" height="3"/><rect x="544" y="498" width="1" height="1"/><rect x="547" y="498" width="1" height="3"/><rect x="542" y="501" width="1" height="1"/><rect x="546" y="501" width="1" height="1"/><rect x="543" y="502" width="1" height="1"/><rect x="545" y="502" width="1" height="1"/><rect x="544" y="503" width="1" height="1"/></g>
<circle cx="545" cy="514" r="4.6" fill="#ececec" stroke="#d0d0d0" stroke-width="0.8"/><path d="M542.3 516.7 L547.7 511.3" stroke="#a8a8a8" stroke-width="0.9"/><path d="M543 517.3 L548.3 512" stroke="#fff" stroke-width="0.7"/>
<path d="M547 524 C542.5 524 540 526.5 540 529 C540 531.5 542.5 534 547 534 C543.5 532.5 543 525.5 547 524 Z" fill="url(#moon)"/>
</svg>
</body></html>
